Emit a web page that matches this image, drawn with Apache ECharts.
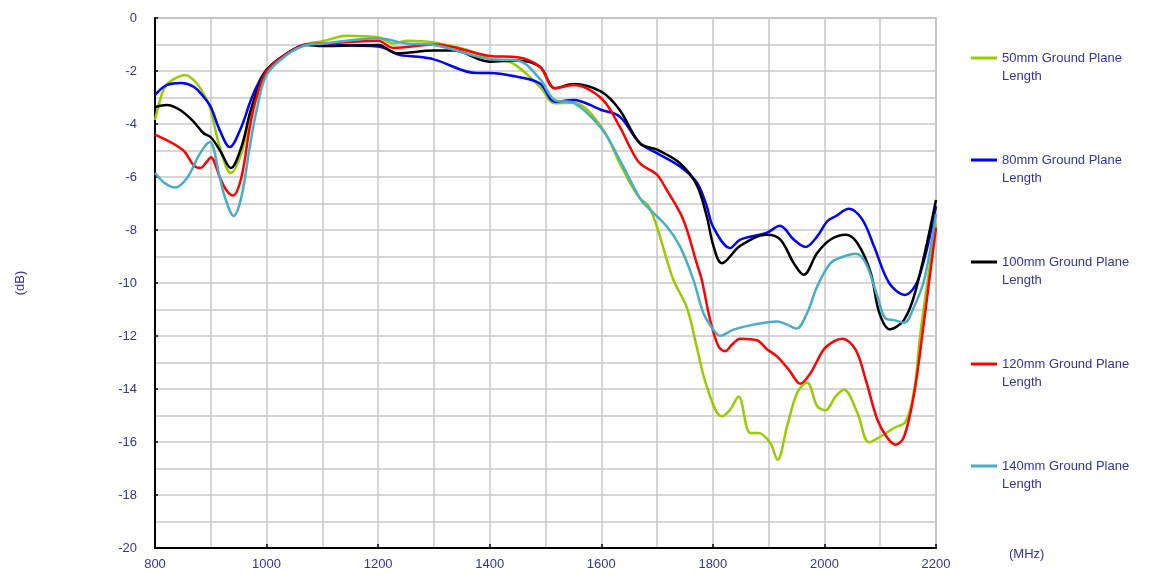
<!DOCTYPE html>
<html lang="en">
<head>
    <meta charset="UTF-8">
    <title>Ground Plane Length - Return Loss</title>
    <script src="https://cdn.jsdelivr.net/npm/echarts@6/dist/echarts.min.js"></script>
    <style>
        html, body {
            margin: 0;
            padding: 0;
            background: #fff;
        }

        #chart {
            width: 1150px;
            height: 579px;
        }
    </style>
</head>
<body>
    <div id="chart"></div>

    <script>
        // [MHz, dB]
        const gp50 = [
            [800, -3.85], [815, -2.72], [827, -2.4], [854, -2.15], [875, -2.47], [893, -3.09],
            [900, -3.47], [916, -4.86], [936, -5.85], [955, -5.1], [970, -3.7], [982, -2.9],
            [1000, -2.0], [1036, -1.35], [1072, -0.98], [1100, -0.88], [1144, -0.67], [1200, -0.73],
            [1227, -0.96], [1252, -0.86], [1300, -0.92], [1359, -1.2], [1400, -1.55], [1442, -1.72],
            [1490, -2.6], [1517, -3.22], [1550, -3.2], [1600, -4.1], [1633, -5.48], [1651, -6.2],
            [1669, -6.8], [1685, -7.1], [1700, -7.9], [1729, -9.87], [1753, -10.9], [1771, -12.4],
            [1789, -13.9], [1816, -15.03], [1831, -14.78], [1846, -14.28], [1867, -15.66], [1882, -15.66],
            [1903, -16.04], [1916, -16.67], [1933, -15.41], [1951, -14.15], [1969, -13.75], [1987, -14.65],
            [2002, -14.8], [2020, -14.28], [2035, -14.03], [2059, -14.9], [2080, -16.01], [2101, -15.79],
            [2125, -15.47], [2146, -15.22], [2161, -14.03], [2172, -11.9], [2200, -7.75]
        ];
        const gp80 = [
            [800, -2.9], [821, -2.53], [848, -2.45], [869, -2.59], [887, -2.97], [900, -3.36],
            [916, -4.23], [934, -4.87], [955, -4.1], [970, -3.2], [982, -2.6], [1000, -1.96],
            [1036, -1.35], [1072, -1.0], [1100, -1.02], [1200, -1.08], [1239, -1.4], [1260, -1.44],
            [1300, -1.56], [1377, -2.08], [1400, -2.08], [1442, -2.19], [1490, -2.47], [1517, -3.16],
            [1550, -3.09], [1600, -3.47], [1633, -3.72], [1669, -4.72], [1700, -5.1], [1741, -5.6],
            [1771, -6.2], [1789, -7.1], [1800, -7.86], [1831, -8.68], [1849, -8.36], [1897, -8.1],
            [1920, -7.84], [1945, -8.36], [1966, -8.64], [1987, -8.24], [2005, -7.67], [2020, -7.48],
            [2044, -7.2], [2068, -7.61], [2089, -8.62], [2116, -10.0], [2144, -10.45], [2168, -9.87],
            [2200, -7.1]
        ];
        const gp100 = [
            [800, -3.36], [821, -3.28], [845, -3.47], [869, -3.91], [887, -4.35], [900, -4.5],
            [916, -4.98], [936, -5.66], [955, -4.86], [970, -3.6], [982, -2.8], [1000, -1.96],
            [1036, -1.35], [1072, -1.02], [1100, -1.06], [1200, -1.02], [1234, -1.33], [1300, -1.23],
            [1335, -1.23], [1400, -1.65], [1450, -1.6], [1490, -1.84], [1517, -2.65], [1550, -2.49],
            [1600, -2.78], [1633, -3.47], [1669, -4.72], [1700, -4.97], [1741, -5.48], [1771, -6.3],
            [1789, -7.48], [1801, -8.6], [1816, -9.25], [1849, -8.6], [1897, -8.18], [1921, -8.36],
            [1945, -9.25], [1963, -9.69], [1987, -8.87], [2011, -8.36], [2038, -8.18], [2059, -8.49],
            [2083, -9.62], [2098, -11.1], [2117, -11.75], [2143, -11.38], [2164, -10.25], [2200, -6.87]
        ];
        const gp120 = [
            [800, -4.4], [850, -4.98], [869, -5.55], [881, -5.66], [893, -5.42], [900, -5.25],
            [916, -6.0], [928, -6.5], [940, -6.7], [955, -6.0], [970, -4.1], [982, -3.0],
            [1000, -2.0], [1036, -1.35], [1072, -1.0], [1100, -0.97], [1200, -0.86], [1227, -1.13],
            [1300, -1.0], [1400, -1.43], [1450, -1.48], [1490, -1.84], [1517, -2.65], [1550, -2.53],
            [1600, -3.03], [1633, -4.1], [1651, -4.86], [1669, -5.48], [1700, -5.92], [1717, -6.48],
            [1747, -7.61], [1771, -9.25], [1780, -9.87], [1795, -11.38], [1810, -12.39], [1822, -12.58],
            [1834, -12.33], [1849, -12.1], [1879, -12.16], [1897, -12.5], [1915, -12.77], [1936, -13.27],
            [1957, -13.8], [1975, -13.4], [1999, -12.5], [2017, -12.2], [2032, -12.1], [2056, -12.52],
            [2074, -13.65], [2095, -15.16], [2113, -15.85], [2128, -16.1], [2143, -15.79], [2161, -14.15],
            [2177, -11.7], [2200, -7.9]
        ];
        const gp140 = [
            [800, -5.85], [818, -6.24], [836, -6.4], [857, -6.05], [881, -5.1], [898, -4.68],
            [916, -6.0], [925, -6.74], [941, -7.47], [955, -6.74], [970, -4.85], [982, -3.5],
            [1000, -2.15], [1036, -1.4], [1072, -1.02], [1100, -0.97], [1200, -0.76], [1250, -0.96],
            [1300, -1.02], [1400, -1.55], [1450, -1.6], [1490, -2.3], [1517, -3.1], [1550, -3.2],
            [1600, -4.16], [1633, -5.35], [1669, -6.8], [1681, -7.1], [1717, -7.86], [1741, -8.62],
            [1765, -9.87], [1783, -11.13], [1801, -11.76], [1813, -11.99], [1837, -11.76], [1873, -11.57],
            [1915, -11.45], [1933, -11.57], [1950, -11.72], [1969, -11.13], [1987, -10.13], [2011, -9.25],
            [2035, -9.0], [2056, -8.9], [2074, -9.25], [2095, -10.5], [2110, -11.35], [2125, -11.4],
            [2143, -11.5], [2161, -10.88], [2179, -9.87], [2200, -7.4]
        ];

        const seriesNames = [
            '50mm Ground Plane\nLength',
            '80mm Ground Plane\nLength',
            '100mm Ground Plane\nLength',
            '120mm Ground Plane\nLength',
            '140mm Ground Plane\nLength'
        ];
        const seriesData = [gp50, gp80, gp100, gp120, gp140];
        const seriesColors = ['#99cc00', '#0000ff', '#000000', '#ff0000', '#4bacc6'];

        const labelColor = '#333399';
        const gridColor = '#c8c8c8';

        const chart = echarts.init(document.getElementById('chart'));

        const option = {
            animation: false,
            textStyle: {
                fontFamily: 'Arial, "Liberation Sans", sans-serif'
            },
            grid: {
                left: 155,
                top: 18,
                right: 214,
                bottom: 31,
                show: true,
                borderColor: '#a8a8a8',
                borderWidth: 1.5
            },
            legend: {
                orient: 'vertical',
                left: 971,
                top: 31,
                padding: 0,
                itemGap: 48,
                itemWidth: 26,
                itemHeight: 3,
                icon: 'rect',
                selectedMode: false,
                // blank first line keeps the icon level with the first text line
                formatter: name => ' \n' + name,
                textStyle: {
                    color: labelColor,
                    fontSize: 13,
                    lineHeight: 18
                },
                data: seriesNames
            },
            xAxis: {
                type: 'value',
                min: 800,
                max: 2200,
                interval: 200,
                name: '(MHz)',
                nameLocation: 'end',
                nameGap: 73,
                nameTextStyle: {
                    color: labelColor,
                    fontSize: 13,
                    verticalAlign: 'top'
                },
                axisLine: { show: true, onZero: false, lineStyle: { color: '#000', width: 2 } },
                axisTick: { show: true, inside: true, length: 4, lineStyle: { color: '#000', width: 1.5 } },
                axisLabel: { color: labelColor, fontSize: 13, margin: 10, formatter: v => String(v) },
                splitLine: { show: true, lineStyle: { color: gridColor, width: 1.5 } },
                minorTick: { show: false, splitNumber: 2 },
                minorSplitLine: { show: true, lineStyle: { color: gridColor, width: 1.5 } }
            },
            yAxis: {
                type: 'value',
                min: -20,
                max: 0,
                interval: 2,
                name: '(dB)',
                nameLocation: 'middle',
                nameRotate: 90,
                nameGap: 128,
                nameTextStyle: { color: labelColor, fontSize: 13 },
                axisLine: { show: true, onZero: false, lineStyle: { color: '#000', width: 2 } },
                axisTick: { show: true, inside: true, length: 3, lineStyle: { color: '#000', width: 1.5 } },
                axisLabel: { color: labelColor, fontSize: 13, margin: 18 },
                splitLine: { show: true, lineStyle: { color: gridColor, width: 1.5 } },
                minorTick: { show: false, splitNumber: 2 },
                minorSplitLine: { show: true, lineStyle: { color: gridColor, width: 1.5 } }
            },
            series: seriesNames.map((name, i) => ({
                name: name,
                type: 'line',
                data: seriesData[i],
                smooth: 0.35,
                showSymbol: false,
                color: seriesColors[i],
                lineStyle: { width: 2.5, color: seriesColors[i] }
            }))
        };

        chart.setOption(option);
    </script>
</body>
</html>
